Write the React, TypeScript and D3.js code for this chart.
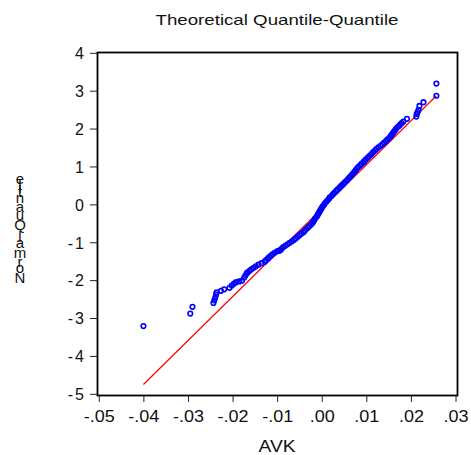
import React from "react";
import * as d3 from "d3";

const TITLE = "Theoretical Quantile-Quantile";
const X_LABEL = "AVK";
const Y_LABEL = "Normal Quantile";

const xTicks = [-0.05, -0.04, -0.03, -0.02, -0.01, 0.0, 0.01, 0.02, 0.03];
const xTickLabels = ["-.05", "-.04", "-.03", "-.02", "-.01", ".00", ".01", ".02", ".03"];
const yTicks = [-5, -4, -3, -2, -1, 0, 1, 2, 3, 4];

// empirical quantiles (sorted AVK)
const avk = [
  -0.0401, -0.0296, -0.0291, -0.0244, -0.0242, -0.024, -0.0238, -0.0237, -0.0227, -0.022,
  -0.0208, -0.0203, -0.0198, -0.0193, -0.0186, -0.018, -0.0175, -0.0172, -0.0169,
  -0.0167, -0.0163, -0.0159, -0.0154, -0.0149, -0.0143, -0.0136, -0.0129, -0.0126, -0.0122,
  -0.0119, -0.0115, -0.0111, -0.0106, -0.01, -0.0097, -0.0094, -0.0091, -0.0088, -0.0083,
  -0.0078, -0.0073, -0.0068, -0.0063, -0.0059, -0.0055, -0.0051, -0.0047, -0.0042, -0.0039,
  -0.0036, -0.0032, -0.0029, -0.0025, -0.0022, -0.002, -0.0018, -0.0016, -0.0013, -0.0011,
  -0.0009, -0.0007, -0.0005, -0.0003, -0.0001, 0.0001, 0.0004, 0.0006, 0.0009, 0.0012,
  0.0015, 0.0017, 0.0021, 0.0024, 0.0027, 0.0031, 0.0034, 0.0038, 0.0041, 0.0044,
  0.0048, 0.0051, 0.0055, 0.0058, 0.0061, 0.0064, 0.0067, 0.007, 0.0073, 0.0075,
  0.0078, 0.0081, 0.0085, 0.0088, 0.0092, 0.0095, 0.0098, 0.0102, 0.0105, 0.0109,
  0.0112, 0.0115, 0.0119, 0.0122, 0.0126, 0.0131, 0.0135, 0.0139, 0.0143, 0.0146,
  0.015, 0.0153, 0.0155, 0.0158, 0.016, 0.0163, 0.0165, 0.0168, 0.0172, 0.0175,
  0.0178, 0.0182,
  0.019, 0.0211, 0.0212, 0.0214, 0.0216, 0.0218, 0.0227, 0.0256, 0.0256,
];

// theoretical normal quantiles
const normalQ = [
  -3.2, -2.87, -2.69, -2.59, -2.52, -2.45, -2.37, -2.31, -2.27, -2.23,
  -2.19, -2.13, -2.08, -2.04, -2.02, -2.0, -1.92, -1.86, -1.8,
  -1.78, -1.74, -1.7, -1.66, -1.62, -1.58, -1.54, -1.5, -1.46, -1.42,
  -1.38, -1.34, -1.3, -1.26, -1.22, -1.21, -1.2, -1.16, -1.12, -1.08,
  -1.04, -1.0, -0.96, -0.92, -0.88, -0.84, -0.8, -0.76, -0.72, -0.68,
  -0.64, -0.6, -0.56, -0.52, -0.48, -0.44, -0.4, -0.36, -0.32, -0.28,
  -0.24, -0.2, -0.16, -0.12, -0.08, -0.04, 0.0, 0.04, 0.08, 0.12,
  0.16, 0.2, 0.24, 0.28, 0.32, 0.36, 0.4, 0.44, 0.48, 0.52,
  0.56, 0.6, 0.64, 0.68, 0.72, 0.76, 0.8, 0.84, 0.88, 0.92,
  0.96, 1.0, 1.04, 1.08, 1.12, 1.16, 1.2, 1.24, 1.28, 1.32,
  1.36, 1.4, 1.44, 1.48, 1.52, 1.56, 1.6, 1.64, 1.68, 1.72,
  1.76, 1.8, 1.84, 1.88, 1.92, 1.96, 2.0, 2.04, 2.08, 2.12,
  2.16, 2.2,
  2.27, 2.33, 2.4, 2.45, 2.51, 2.61, 2.71, 2.88, 3.2,
];

// theoretical reference line endpoints
const refLineX = [-0.0401, 0.0256];
const refLineY = [-4.74, 2.88];

const W = 471;
const H = 455;
const frame = { left: 97.5, right: 457.5, top: 52.5, bottom: 395.5 };
const FONT = "'Liberation Sans', Arial, sans-serif";

function measure(ch: string, font: string): number {
  const c = document.createElement("canvas").getContext("2d");
  if (!c) return 7;
  c.font = font;
  return c.measureText(ch).width;
}

export default function App() {
  const x = d3.scaleLinear().domain([-0.05, 0.03]).range([99.3, 456]);
  const y = d3.scaleLinear().domain([-5, 4]).range([394.3, 53.3]);

  const pts = avk.map((v, i) => [x(v), y(normalQ[i])]);
  const line = d3.line<number>()
    .x((_, i) => x(refLineX[i]))
    .y((d) => y(d));

  // vertical label, glyphs upright, stacked by advance width
  const ySize = 15;
  const yFont = `${ySize}px ${FONT}`;
  const chars = Y_LABEL.split("");
  let cum = 0;
  const labelChars = chars.map((ch) => {
    const w = measure(ch, yFont);
    const cy = 283 - cum - w / 2;
    cum += w;
    return { ch, cy };
  });

  return (
    <svg
      width={W}
      height={H}
      style={{ position: "absolute", left: 0, top: 0, background: "#fff" }}
      fontFamily={FONT}
    >
      <rect x={0} y={0} width={W} height={H} fill="#fff" />
      <text x={277} y={25} textAnchor="middle" fontSize={15} textLength={243} lengthAdjust="spacingAndGlyphs" fill="#111">
        {TITLE}
      </text>

      {/* y ticks */}
      {yTicks.map((t) => (
        <g key={"y" + t}>
          <line x1={90} x2={frame.left} y1={y(t)} y2={y(t)} stroke="#222" strokeWidth={1} />
          <text x={84} y={y(t)} dy="0.36em" textAnchor="end" fontSize={16} fill="#111">
            {t < 0 ? (
              <>
                <tspan>-</tspan>
                <tspan dx={2}>{Math.abs(t)}</tspan>
              </>
            ) : (
              t
            )}
          </text>
        </g>
      ))}

      {/* x ticks */}
      {xTicks.map((t, i) => (
        <g key={"x" + i}>
          <line x1={x(t)} x2={x(t)} y1={frame.bottom} y2={402} stroke="#222" strokeWidth={1} />
          <text
            x={x(t)}
            y={422}
            textAnchor="middle"
            fontSize={16}
            fill="#111"
            textLength={xTickLabels[i].length === 4 ? 31 : 25}
            lengthAdjust="spacingAndGlyphs"
          >
            {xTickLabels[i]}
          </text>
        </g>
      ))}

      <text x={277} y={452} textAnchor="middle" fontSize={16} fill="#111" textLength={37} lengthAdjust="spacingAndGlyphs">
        {X_LABEL}
      </text>

      {labelChars.map((c, i) => (
        <text key={"yl" + i} x={20} y={c.cy} dy="0.36em" textAnchor="middle" fontSize={ySize} fill="#111">
          {c.ch}
        </text>
      ))}

      {/* reference line */}
      <path d={line(refLineY) || ""} fill="none" stroke="#ff0000" strokeWidth={1.2} />

      {/* points */}
      {pts.map((p, i) => (
        <circle key={i} cx={p[0]} cy={p[1]} r={2.3} fill="none" stroke="#0000ff" strokeWidth={1.6} />
      ))}

      {/* frame */}
      <rect
        x={frame.left}
        y={frame.top}
        width={frame.right - frame.left}
        height={frame.bottom - frame.top}
        fill="none"
        stroke="#000"
        strokeWidth={1.8}
      />
    </svg>
  );
}
